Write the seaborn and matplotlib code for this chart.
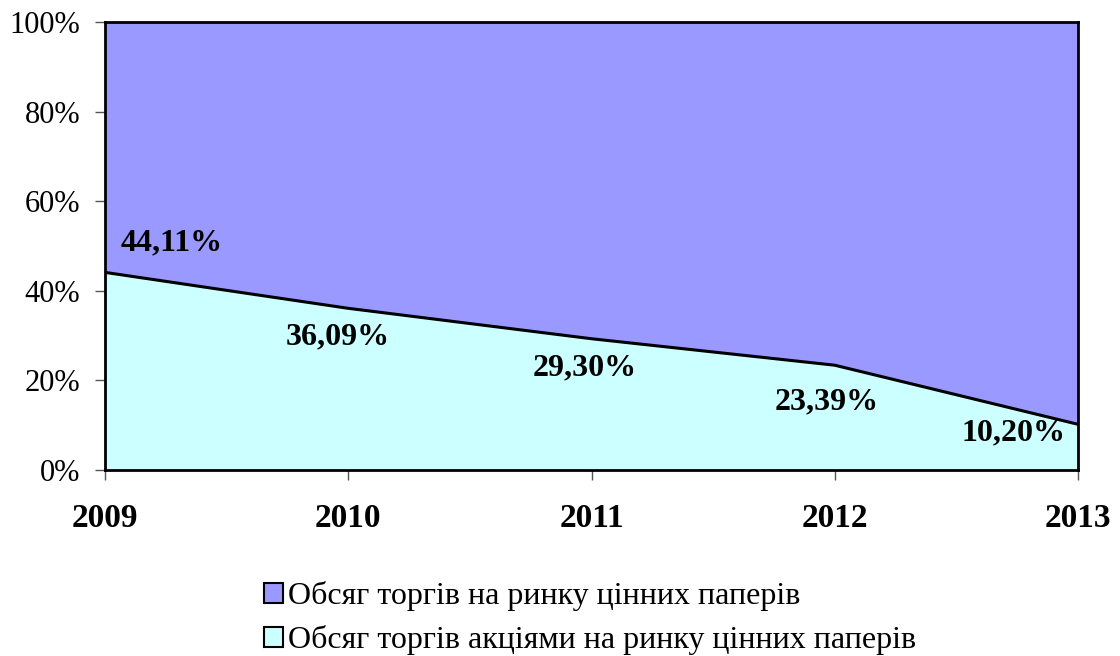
import matplotlib
matplotlib.use("Agg")
import matplotlib.pyplot as plt
import seaborn as sns
import pandas as pd
from matplotlib.patches import Patch

years = ["2009", "2010", "2011", "2012", "2013"]
shares = [44.11, 36.09, 29.30, 23.39, 10.20]
labels = ["44,11%", "36,09%", "29,30%", "23,39%", "10,20%"]
series_names = ["Обсяг торгів на ринку цінних паперів",
                "Обсяг торгів акціями на ринку цінних паперів"]
total = [100, 100, 100, 100, 100]

sns.set_theme(style="ticks")
plt.rcParams["font.family"] = ["Liberation Serif", "DejaVu Serif"]
plt.rcParams["text.color"] = "black"
plt.rcParams["xtick.color"] = "#555555"
plt.rcParams["ytick.color"] = "#555555"
plt.rcParams["xtick.labelcolor"] = "black"
plt.rcParams["ytick.labelcolor"] = "black"

df = pd.DataFrame({"year": years, "pos": range(len(years)), "share": shares, "total": total})

fig = plt.figure(figsize=(11.2, 6.56), dpi=100)
ax = fig.add_axes([105/1120, 1-470/656, (1078-105)/1120, (470-22)/656])

ax.fill_between(df["pos"], df["share"], df["total"], color="#9999FF", linewidth=0)
ax.fill_between(df["pos"], 0, df["share"], color="#CCFFFF", linewidth=0)
sns.lineplot(data=df, x="pos", y="share", color="black", linewidth=2.2, ax=ax)

ax.set_xlim(0, 4)
ax.set_ylim(0, 100)
ax.set_xticks(df["pos"])
ax.set_xticklabels(years, fontsize=24, fontweight="bold")
ax.set_yticks([0, 20, 40, 60, 80, 100])
ax.set_yticklabels([f"{v}%" for v in [0, 20, 40, 60, 80, 100]], fontsize=22)
ax.tick_params(axis="both", direction="out", length=7, width=1,
               bottom=True, left=True)
ax.tick_params(axis="x", pad=17)
ax.tick_params(axis="y", pad=11)
ax.set_xlabel("")
ax.set_ylabel("")
for s in ax.spines.values():
    s.set_visible(True)
    s.set_color("black")
    s.set_linewidth(2)

offsets = [(0.275, 6.6), (-0.042, -6.4), (-0.027, -6.5), (-0.032, -8.2), (-0.267, -1.9)]
for i, (lab, (dx, dy)) in enumerate(zip(labels, offsets)):
    ax.text(df["pos"][i] + dx, shares[i] + dy, lab, ha="center", va="center",
            fontsize=23, fontweight="bold", color="black")

handles = [Patch(facecolor="#9999FF", edgecolor="black", linewidth=1.5),
           Patch(facecolor="#CCFFFF", edgecolor="black", linewidth=1.5)]
fig.legend(handles, series_names, loc="upper left", bbox_to_anchor=(264/1120, 1-581/656),
           frameon=False, fontsize=23, handlelength=0.6, handleheight=0.6,
           handletextpad=0.15, labelspacing=0.45, borderpad=0, borderaxespad=0)

fig.savefig("out.png", dpi=100)
